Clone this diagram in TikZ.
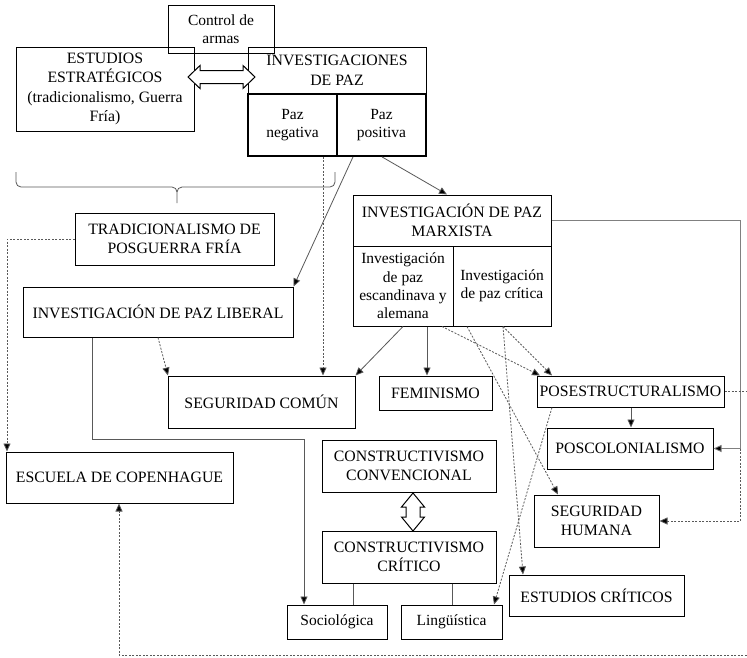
\documentclass[tikz,border=0pt]{standalone}
\usepackage{fontspec}
\setmainfont{Liberation Serif}
\usetikzlibrary{arrows.meta}
\newcommand{\fsz}{\fontsize{15.8}{19.5}\selectfont}
\newcommand{\fszs}{\fontsize{15.5}{18.3}\selectfont}
\tikzset{
  box/.style={draw=black, line width=1pt, inner sep=0pt, align=center, font=\fsz},
  sbox/.style={box, font=\fszs},
  thickbox/.style={sbox, line width=1.8pt},
  conn/.style={draw=black!65, line width=0.8pt, -{Triangle[length=8pt,width=7pt,fill=black]}},
  plain/.style={draw=black!65, line width=0.8pt},
  dconn/.style={conn, dash pattern=on 2pt off 1.5pt},
  hollow/.style={draw=black, line width=1pt, fill=white},
}
\begin{document}
\begin{tikzpicture}[x=1pt,y=-1pt]
\fill[white] (0,0) rectangle (747,657);
\useasboundingbox (0,0) rectangle (747,657);

% boxes
\node[sbox,minimum width=106pt,minimum height=48pt] (ctrl) at (221,29) {Control de\\armas};
\node[box,minimum width=178pt,minimum height=84pt] (estr) at (105,89) {ESTUDIOS\\ESTRATÉGICOS\\(tradicionalismo, Guerra\\Fría)};
\node[box,minimum width=178pt,minimum height=47pt] (inv) at (337,70.5) {INVESTIGACIONES\\DE PAZ};
\node[thickbox,minimum width=89pt,minimum height=62pt] (pazneg) at (292.5,125) {Paz\\negativa};
\node[thickbox,minimum width=89pt,minimum height=62pt] (pazpos) at (381.5,125) {Paz\\positiva};
\node[box,minimum width=199pt,minimum height=52pt] (trad) at (174.5,239) {TRADICIONALISMO DE\\POSGUERRA FRÍA};
\node[box,minimum width=270pt,minimum height=50pt] (lib) at (158,312) {INVESTIGACIÓN DE PAZ LIBERAL};
\node[box,minimum width=187pt,minimum height=52pt] (segc) at (261.5,402) {SEGURIDAD COMÚN};
\node[box,minimum width=198pt,minimum height=51pt] (marx) at (452,220.5) {INVESTIGACIÓN DE PAZ\\MARXISTA};
\node[sbox,minimum width=100pt,minimum height=80pt] (escand) at (403,286) {Investigación\\de paz\\escandinava y\\alemana};
\node[sbox,minimum width=98pt,minimum height=80pt] (crit) at (502,286) {Investigación\\de paz crítica};
\node[box,minimum width=113pt,minimum height=34pt] (fem) at (435.5,393) {FEMINISMO};
\node[box,minimum width=187pt,minimum height=31pt] (poses) at (630.5,391.5) {POSESTRUCTURALISMO};
\node[box,minimum width=166pt,minimum height=41pt] (poscol) at (630,448.5) {POSCOLONIALISMO};
\node[box,minimum width=125pt,minimum height=52pt] (seghum) at (596.5,521) {SEGURIDAD\\HUMANA};
\node[box,minimum width=175pt,minimum height=41pt] (estcrit) at (596.5,595.5) {ESTUDIOS CRÍTICOS};
\node[box,minimum width=227pt,minimum height=51pt] (copen) at (119.5,477.5) {ESCUELA DE COPENHAGUE};
\node[box,minimum width=174pt,minimum height=52pt] (conv) at (409,466) {CONSTRUCTIVISMO\\CONVENCIONAL};
\node[box,minimum width=174pt,minimum height=52pt] (ccrit) at (409,557) {CONSTRUCTIVISMO\\CRÍTICO};
\node[sbox,minimum width=100pt,minimum height=34pt] (socio) at (337,622) {Sociológica};
\node[sbox,minimum width=101pt,minimum height=34pt] (ling) at (451.5,622) {Lingüística};

% hollow double arrows
\draw[hollow] (188,77) -- (200,65.5) -- (200,70.5) -- (243,70.5) -- (243,65.5) -- (255,77)
  -- (243,88.5) -- (243,83.5) -- (200,83.5) -- (200,88.5) -- cycle;
\draw[hollow] (413,493) -- (424.5,507) -- (420,507) -- (420,517) -- (424.5,517) -- (413,531)
  -- (401.5,517) -- (406,517) -- (406,507) -- (401.5,507) -- cycle;

% brace
\draw[plain] (16,172) -- (16,182) to[out=-90,in=180] (21,187) -- (172,187)
  to[out=0,in=90] (177,192) -- (177,203);
\draw[plain] (177,192) to[out=90,in=180] (182,187) -- (330,187)
  to[out=0,in=-90] (335,182) -- (335,172);

% solid connectors
\draw[conn] (pazpos.south -| 382,0) -- (marx.north -| 447,0);
\draw[conn] (pazpos.south -| 353,0) -- (lib.north east);
\draw[conn] (escand.south -| 403,0) -- (segc.north east);
\draw[conn] (escand.south -| 427,0) -- (fem.north -| 427,0);
\draw[conn, draw=black!50] (marx.east) -| (poscol.east -| 740,0) -- (poscol.east);
\draw[conn] (poses.south -| 631,0) -- (poscol.north -| 631,0);
\draw[conn] (lib.south -| 92,0) -- (92,439) -| (socio.north -| 304,0);
\draw[plain] (ccrit.south -| 353,0) -- (socio.north -| 353,0);
\draw[plain] (ccrit.south -| 452,0) -- (ling.north -| 452,0);

% dashed connectors
\draw[dconn] (pazneg.south -| 323,0) -- (segc.north -| 323,0);
\draw[dconn] (trad.west) -| (copen.north -| 7,0);
\draw[dconn] (lib.south -| 158,0) -- (segc.north -| 168,0);
\draw[dconn] (poses.east) -| (770,655) -| (copen.south -| 119,0);
\draw[dconn] (poscol.east -| 740,0) |- (seghum.east);
\draw[dconn] (escand.south -| 442,0) -- (poses.north -| 540,0);
\draw[dconn] (crit.south -| 503,0) -- (poses.north -| 552,0);
\draw[dconn] (crit.south -| 467,0) -- (seghum.north -| 558,0);
\draw[dconn] (crit.south -| 503,0) -- (estcrit.north -| 523,0);
\draw[dconn] (poses.south -| 552,0) -- (ling.north -| 494,0);
\end{tikzpicture}
\end{document}
